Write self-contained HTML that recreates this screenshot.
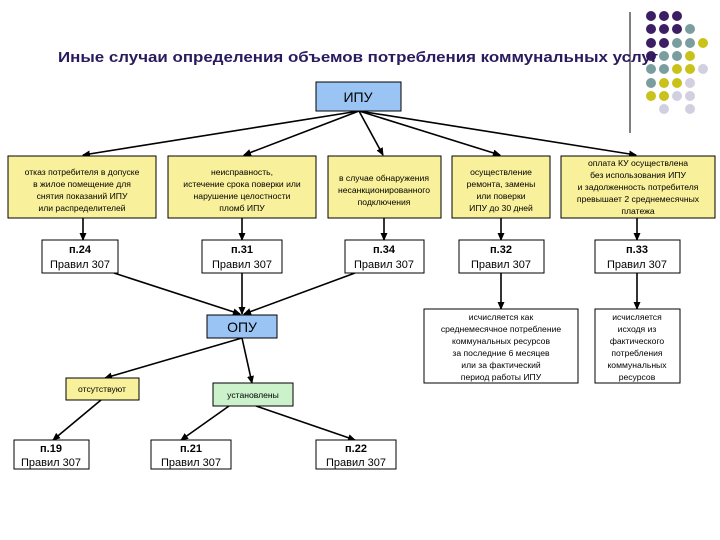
<!DOCTYPE html>
<html><head><meta charset="utf-8"><style>
html,body{margin:0;padding:0;background:#fff}
svg{display:block}
text{font-family:"Liberation Sans",sans-serif;fill:#000}
.s{font-size:8.6px}
.b{font-size:11px;font-weight:bold}
.r{font-size:11px}
</style></head><body>
<svg width="720" height="540" viewBox="0 0 720 540" xmlns="http://www.w3.org/2000/svg">
<defs><marker id="a" markerWidth="8" markerHeight="8" refX="7" refY="4" orient="auto" markerUnits="userSpaceOnUse"><path d="M0,0.5 L8,4 L0,7.5 z" fill="#000"/></marker></defs>
<line x1="630" y1="12" x2="630" y2="133" stroke="#000" stroke-width="1"/>
<g>
<circle cx="651" cy="16" r="5" fill="#3b1e64"/><circle cx="664" cy="16" r="5" fill="#3b1e64"/><circle cx="677" cy="16" r="5" fill="#3b1e64"/>
<circle cx="651" cy="29" r="5" fill="#3b1e64"/><circle cx="664" cy="29" r="5" fill="#3b1e64"/><circle cx="677" cy="29" r="5" fill="#3b1e64"/><circle cx="690" cy="29" r="5" fill="#7a9e9f"/>
<circle cx="651" cy="43" r="5" fill="#3b1e64"/><circle cx="664" cy="43" r="5" fill="#3b1e64"/><circle cx="677" cy="43" r="5" fill="#7a9e9f"/><circle cx="690" cy="43" r="5" fill="#7a9e9f"/><circle cx="703" cy="43" r="5" fill="#c8c21a"/>
<circle cx="651" cy="56" r="5" fill="#3b1e64"/><circle cx="664" cy="56" r="5" fill="#7a9e9f"/><circle cx="677" cy="56" r="5" fill="#7a9e9f"/><circle cx="690" cy="56" r="5" fill="#c8c21a"/>
<circle cx="651" cy="69" r="5" fill="#7a9e9f"/><circle cx="664" cy="69" r="5" fill="#7a9e9f"/><circle cx="677" cy="69" r="5" fill="#c8c21a"/><circle cx="690" cy="69" r="5" fill="#c8c21a"/><circle cx="703" cy="69" r="5" fill="#d0d0e0"/>
<circle cx="651" cy="83" r="5" fill="#7a9e9f"/><circle cx="664" cy="83" r="5" fill="#c8c21a"/><circle cx="677" cy="83" r="5" fill="#c8c21a"/><circle cx="690" cy="83" r="5" fill="#d0d0e0"/>
<circle cx="651" cy="96" r="5" fill="#c8c21a"/><circle cx="664" cy="96" r="5" fill="#c8c21a"/><circle cx="677" cy="96" r="5" fill="#d0d0e0"/><circle cx="690" cy="96" r="5" fill="#d0d0e0"/>
<circle cx="664" cy="109" r="5" fill="#d0d0e0"/><circle cx="690" cy="109" r="5" fill="#d0d0e0"/>
</g>
<text x="58" y="62" style="font-size:14.5px;font-weight:bold;fill:#2a1a5e" textLength="600" lengthAdjust="spacingAndGlyphs">Иные случаи определения объемов потребления коммунальных услуг</text>

<g stroke="#000" stroke-width="1.6" fill="none" marker-end="url(#a)">
<line x1="359" y1="111" x2="83" y2="155"/><line x1="359" y1="111" x2="244" y2="155"/><line x1="359" y1="111" x2="383" y2="155"/><line x1="359" y1="111" x2="500" y2="155"/><line x1="359" y1="111" x2="636" y2="155"/>
<line x1="83" y1="218" x2="83" y2="240"/><line x1="242" y1="218" x2="242" y2="240"/><line x1="384" y1="218" x2="384" y2="240"/><line x1="501" y1="218" x2="501" y2="240"/><line x1="637" y1="218" x2="637" y2="240"/>
<line x1="114" y1="273" x2="240" y2="314"/><line x1="242" y1="273" x2="242" y2="314"/><line x1="355" y1="273" x2="244" y2="314"/>
<line x1="501" y1="273" x2="501" y2="309"/><line x1="637" y1="273" x2="637" y2="309"/>
<line x1="242" y1="338" x2="105" y2="378"/><line x1="242" y1="338" x2="252" y2="383"/>
<line x1="101" y1="400" x2="53" y2="440"/><line x1="229" y1="406" x2="181" y2="440"/><line x1="256" y1="406" x2="355" y2="440"/>
</g>

<g stroke="#000" stroke-width="1">
<rect x="316" y="82" width="85" height="29" fill="#99c4f4"/>
<rect x="8" y="156" width="148" height="62" fill="#f8f09a"/>
<rect x="168" y="156" width="148" height="62" fill="#f8f09a"/>
<rect x="328" y="156" width="113" height="62" fill="#f8f09a"/>
<rect x="452" y="156" width="98" height="62" fill="#f8f09a"/>
<rect x="561" y="156" width="154" height="62" fill="#f8f09a"/>
<rect x="42" y="240" width="76" height="33" fill="#fff"/>
<rect x="202" y="240" width="80" height="33" fill="#fff"/>
<rect x="345" y="240" width="79" height="33" fill="#fff"/>
<rect x="459" y="240" width="85" height="33" fill="#fff"/>
<rect x="595" y="240" width="85" height="33" fill="#fff"/>
<rect x="207" y="315" width="70" height="23" fill="#99c4f4"/>
<rect x="424" y="309" width="154" height="74" fill="#fff"/>
<rect x="595" y="309" width="85" height="74" fill="#fff"/>
<rect x="66" y="378" width="73" height="22" fill="#f8f09a"/>
<rect x="213" y="383" width="80" height="23" fill="#ccf2cc"/>
<rect x="14" y="440" width="75" height="29" fill="#fff"/>
<rect x="151" y="440" width="80" height="29" fill="#fff"/>
<rect x="316" y="440" width="80" height="29" fill="#fff"/>
</g>

<text x="358" y="102" text-anchor="middle" style="font-size:14px">ИПУ</text>
<text x="242" y="332" text-anchor="middle" style="font-size:14px">ОПУ</text>

<g class="s" text-anchor="middle">
<text x="82" y="175">отказ потребителя в допуске</text><text x="82" y="187">в жилое помещение для</text><text x="82" y="199">снятия показаний ИПУ</text><text x="82" y="211">или распределителей</text>
<text x="242" y="175">неисправность,</text><text x="242" y="187">истечение срока поверки или</text><text x="242" y="199">нарушение целостности</text><text x="242" y="211">пломб ИПУ</text>
<text x="384" y="181">в случае обнаружения</text><text x="384" y="193">несанкционированного</text><text x="384" y="205">подключения</text>
<text x="501" y="175">осуществление</text><text x="501" y="187">ремонта, замены</text><text x="501" y="199">или поверки</text><text x="501" y="211">ИПУ до 30 дней</text>
<text x="638" y="166">оплата КУ осуществлена</text><text x="638" y="178">без использования ИПУ</text><text x="638" y="190">и задолженность потребителя</text><text x="638" y="202">превышает 2 среднемесячных</text><text x="638" y="214">платежа</text>
<text x="501" y="320">исчисляется как</text><text x="501" y="332">среднемесячное потребление</text><text x="501" y="344">коммунальных ресурсов</text><text x="501" y="356">за последние 6 месяцев</text><text x="501" y="368">или за фактический</text><text x="501" y="380">период работы ИПУ</text>
<text x="637" y="320">исчисляется</text><text x="637" y="332">исходя из</text><text x="637" y="344">фактического</text><text x="637" y="356">потребления</text><text x="637" y="368">коммунальных</text><text x="637" y="380">ресурсов</text>
<text x="102" y="392">отсутствуют</text>
<text x="253" y="398">установлены</text>
</g>

<g text-anchor="middle">
<text class="b" x="80" y="253">п.24</text><text class="r" x="80" y="268">Правил 307</text>
<text class="b" x="242" y="253">п.31</text><text class="r" x="242" y="268">Правил 307</text>
<text class="b" x="384" y="253">п.34</text><text class="r" x="384" y="268">Правил 307</text>
<text class="b" x="501" y="253">п.32</text><text class="r" x="501" y="268">Правил 307</text>
<text class="b" x="637" y="253">п.33</text><text class="r" x="637" y="268">Правил 307</text>
<text class="b" x="51" y="452">п.19</text><text class="r" x="51" y="466">Правил 307</text>
<text class="b" x="191" y="452">п.21</text><text class="r" x="191" y="466">Правил 307</text>
<text class="b" x="356" y="452">п.22</text><text class="r" x="356" y="466">Правил 307</text>
</g>
</svg>
</body></html>
